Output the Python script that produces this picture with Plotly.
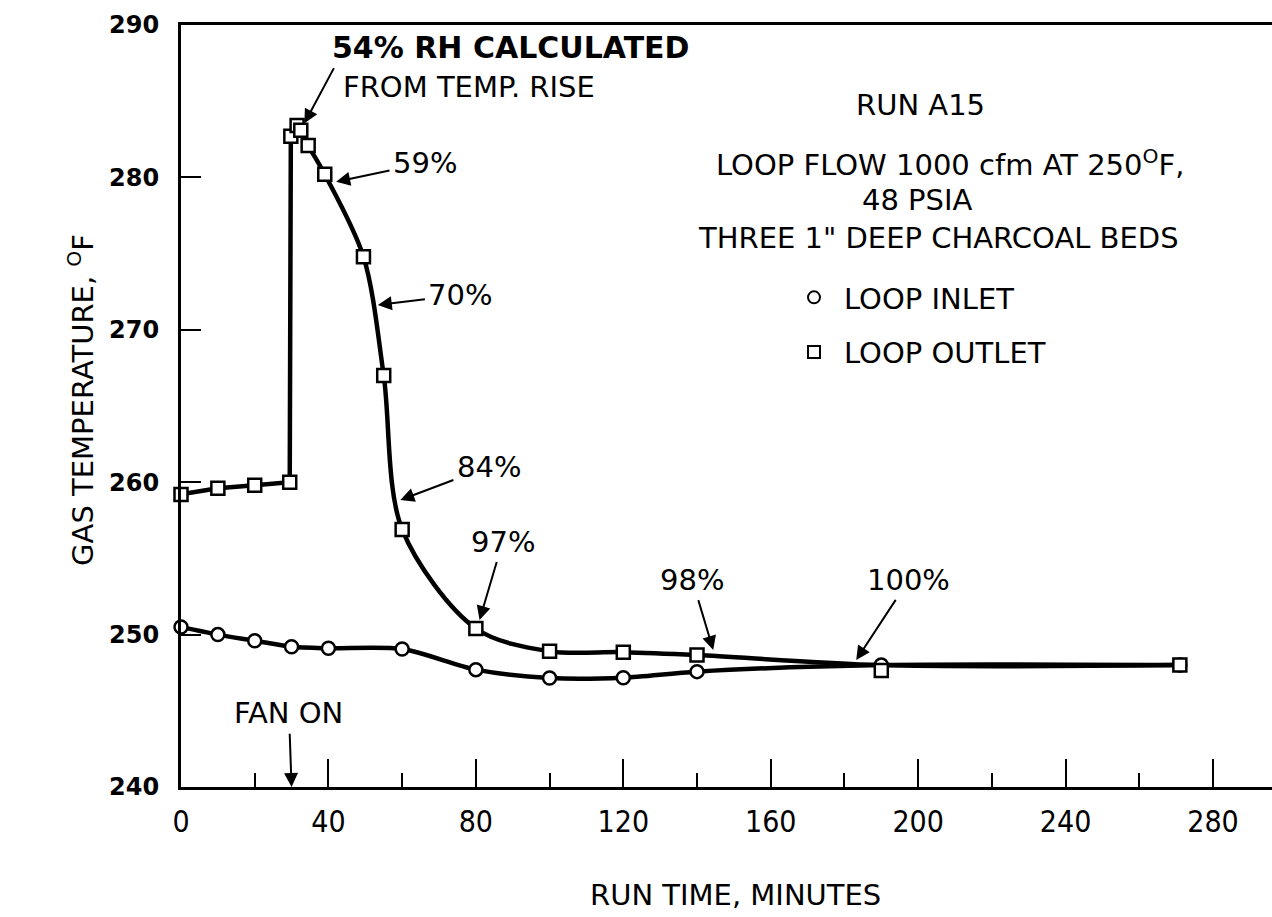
import plotly.graph_objects as go

# ---------------- data ----------------
inlet_time = [0, 10, 20, 30, 40, 60, 80, 100, 120, 140, 190, 271]
inlet_temp = [250.5, 250.0, 249.6, 249.2, 249.1, 249.05, 247.7, 247.15, 247.17, 247.57, 248.0, 248.0]

outlet_time = [0, 10, 20, 29.5, 29.8, 31.5, 32.5, 34.5, 39, 49.5, 55, 60, 80, 100, 120, 140, 190, 271]
outlet_temp = [259.2, 259.6, 259.8, 260.0, 282.7, 283.4, 283.1, 282.1, 280.2, 274.8, 267.0, 256.9,
               250.4, 248.9, 248.85, 248.66, 247.65, 248.0]

x_ticks = [0, 40, 80, 120, 160, 200, 240, 280]
y_ticks = [240, 250, 260, 270, 280, 290]

rh_labels = ["59%", "70%", "84%", "97%", "98%", "100%"]

FONT = "DejaVu Sans, sans-serif"
COND = "DejaVu Sans Condensed, DejaVu Sans, sans-serif"
INK = "black"

fig = go.Figure()

# outlet line: flat part + jump (straight), then smooth decay joining the inlet line
fig.add_trace(go.Scatter(x=outlet_time[:6], y=outlet_temp[:6], mode="lines",
                         line=dict(color=INK, width=4.5), showlegend=False, hoverinfo="skip"))
fig.add_trace(go.Scatter(x=outlet_time[5:16] + inlet_time[10:], y=outlet_temp[5:16] + inlet_temp[10:],
                         mode="lines", line=dict(color=INK, width=4.5, shape="spline", smoothing=0.9),
                         showlegend=False, hoverinfo="skip"))
# inlet line
fig.add_trace(go.Scatter(x=inlet_time, y=inlet_temp, mode="lines",
                         line=dict(color=INK, width=4.5, shape="spline", smoothing=0.8),
                         showlegend=False, hoverinfo="skip"))

# markers
fig.add_trace(go.Scatter(x=inlet_time, y=inlet_temp, mode="markers", name="LOOP INLET",
                         legendgroup="a",
                         marker=dict(symbol="circle", size=13, color="white", line=dict(color=INK, width=2.5)),
                         cliponaxis=False))
fig.add_trace(go.Scatter(x=outlet_time, y=outlet_temp, mode="markers", name="LOOP OUTLET",
                         legendgroup="b",
                         marker=dict(symbol="square", size=13, color="white", line=dict(color=INK, width=2.5)),
                         cliponaxis=False))

ann = []

def text(t, x, y, size=29, xanchor="left", font=FONT):
    ann.append(dict(text=t, x=x, y=y, xref="x", yref="y", xanchor=xanchor, yanchor="middle",
                    showarrow=False, font=dict(family=font, size=size, color=INK)))

def label_arrow(t, cx, cy, tipx, tipy, size=29):
    # text centred at (cx, cy); arrow from the text box edge to the tip
    ann.append(dict(text=t, x=tipx, y=tipy, ax=cx, ay=cy, xref="x", yref="y", axref="x", ayref="y",
                    xanchor="center", yanchor="middle",
                    showarrow=True, arrowhead=2, arrowsize=1.4, arrowwidth=2, arrowcolor=INK,
                    standoff=0, startstandoff=2, font=dict(family=FONT, size=size, color=INK)))

text("<b>54% RH CALCULATED</b>", 40.4, 288.5, size=30)
text("FROM TEMP. RISE", 43.5, 285.95, size=29)
ann.append(dict(text="", x=33.5, y=283.55, ax=41.7, ay=287.27, xref="x", yref="y", axref="x", ayref="y",
                showarrow=True, arrowhead=2, arrowsize=1.4, arrowwidth=2, arrowcolor=INK,
                standoff=0, startstandoff=0))

label_arrow(rh_labels[0], 66.2, 280.94, 42.1, 279.72)
label_arrow(rh_labels[1], 75.8, 272.28, 53.4, 271.63)
label_arrow(rh_labels[2], 83.5, 261.02, 59.5, 258.83)
label_arrow(rh_labels[3], 87.3, 256.1, 81.0, 250.96)
label_arrow(rh_labels[4], 138.7, 253.6, 144.4, 248.99)
label_arrow(rh_labels[5], 197.5, 253.6, 183.2, 248.33)
label_arrow("FAN ON", 29.3, 244.84, 30.0, 240.0)

# information block
text("RUN A15", 200.7, 284.75, size=29, xanchor="center")
text("LOOP FLOW 1000 cfm AT 250<sup>O</sup>F,", 208.6, 280.94, size=29, xanchor="center")
text("48 PSIA", 199.7, 278.5, size=29, xanchor="center")
text("THREE 1\" DEEP CHARCOAL BEDS", 205.6, 276.0, size=29, xanchor="center")

# axis titles
ann.append(dict(text="GAS TEMPERATURE, <sup>O</sup>F", xref="paper", yref="paper", x=0, xshift=-100,
                y=0.508, textangle=-90, showarrow=False, xanchor="center", yanchor="middle",
                font=dict(family=FONT, size=29, color=INK)))
ann.append(dict(text="RUN TIME, MINUTES", xref="paper", yref="paper", x=(735 - 181) / 1091, y=0,
                yshift=-108, showarrow=False, xanchor="center", yanchor="middle",
                font=dict(family=FONT, size=29, color=INK)))

fig.update_layout(
    width=1272, height=917,
    margin=dict(l=181, r=0, t=25, b=130),
    paper_bgcolor="white", plot_bgcolor="white",
    annotations=ann,
    showlegend=True,
    legend=dict(x=(784 - 181) / 1091, y=(787 - 272) / 762, xanchor="left", yanchor="top",
                font=dict(family=FONT, size=29, color=INK), bgcolor="rgba(0,0,0,0)",
                tracegroupgap=14, traceorder="grouped", itemsizing="constant", itemwidth=50),
    xaxis=dict(range=[0, 296], tickvals=x_ticks, ticks="inside", ticklen=28, tickwidth=2,
               tickcolor=INK, showline=True, linewidth=3, linecolor=INK, mirror=True,
               showgrid=False, zeroline=False, ticklabelstandoff=6,
               tickfont=dict(family=COND, size=30, color=INK),
               minor=dict(dtick=20, tick0=0, ticks="inside", ticklen=14, tickwidth=2, tickcolor=INK,
                          showgrid=False)),
    yaxis=dict(range=[240, 290], tickvals=y_ticks, ticks="inside", ticklen=20, tickwidth=2,
               tickcolor=INK, showline=True, linewidth=3, linecolor=INK, mirror=False,
               showgrid=False, zeroline=False, ticklabelstandoff=14,
               tickfont=dict(family=FONT, size=24, color=INK, weight="bold")),
)

fig.write_html("out.html")
